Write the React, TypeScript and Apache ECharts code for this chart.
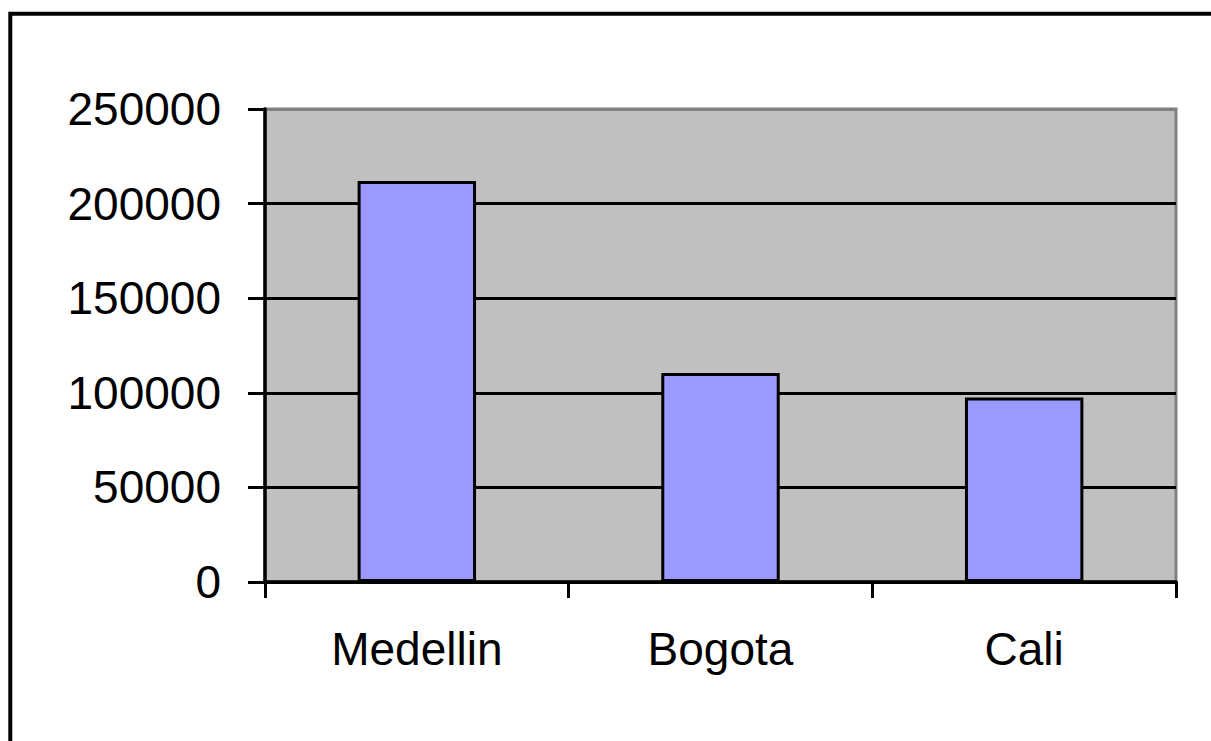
import React, { useEffect, useRef } from "react";
import * as echarts from "echarts";

const categories = ["Medellin", "Bogota", "Cali"];
const values = [212000, 110500, 97500];
const yMin = 0;
const yMax = 250000;
const yInterval = 50000;

const FONT = "'Liberation Sans', Arial, sans-serif";

export default function App() {
  const ref = useRef<HTMLDivElement>(null);
  useEffect(() => {
    document.body.style.margin = "0";
    const chart = echarts.init(ref.current!, null, { renderer: "svg" });
    chart.setOption({
      animation: false,
      backgroundColor: "#ffffff",
      graphic: [
        {
          type: "rect",
          shape: { x: 10.3, y: 13.8, width: 1400, height: 1000 },
          style: { fill: "none", stroke: "#000000", lineWidth: 4 },
          silent: true,
          z: 100,
        },
      ],
      grid: {
        left: 265,
        right: 35,
        top: 109,
        bottom: 159,
        show: true,
        backgroundColor: "#C0C0C0",
        borderColor: "#808080",
        borderWidth: 3,
      },
      xAxis: {
        type: "category",
        data: categories,
        boundaryGap: true,
        axisLine: { show: true, lineStyle: { color: "#000", width: 3.5 } },
        axisTick: { show: true, length: 16, alignWithLabel: false, lineStyle: { color: "#000", width: 3 } },
        axisLabel: { color: "#000", fontFamily: FONT, fontSize: 46, margin: 44 },
        splitLine: { show: false },
      },
      yAxis: {
        type: "value",
        min: yMin,
        max: yMax,
        interval: yInterval,
        axisLine: { show: true, lineStyle: { color: "#000", width: 3.5 } },
        axisTick: { show: true, length: 17, lineStyle: { color: "#000", width: 3 } },
        axisLabel: {
          color: "#000",
          fontFamily: FONT,
          fontSize: 46,
          margin: 44,
          formatter: (v: number) => String(v),
        },
        splitLine: {
          show: true,
          lineStyle: { color: ["#000", "#000", "#000", "#000", "#000", "#808080"], width: 3 },
        },
      },
      series: [
        {
          type: "bar",
          data: values,
          barWidth: "39%",
          itemStyle: { color: "#9999FF", borderColor: "#000", borderWidth: 3 },
        },
      ],
    });
    return () => chart.dispose();
  }, []);
  return <div ref={ref} style={{ width: 1211, height: 741 }} />;
}
